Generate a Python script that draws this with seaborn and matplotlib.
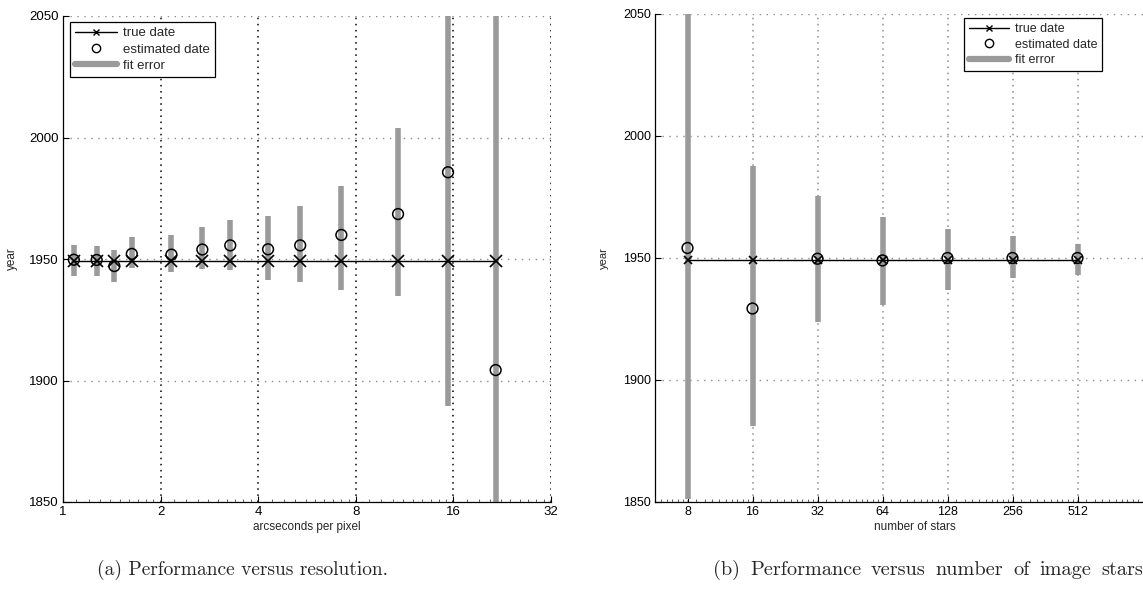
import numpy as np
import matplotlib
matplotlib.use('Agg')
import matplotlib.pyplot as plt
import seaborn as sns
from matplotlib.lines import Line2D
from matplotlib.ticker import FixedLocator, FixedFormatter, NullFormatter

# datos panel (a): resolucion
arcsec = [1.08, 1.27, 1.44, 1.63, 2.16, 2.69, 3.28, 4.29, 5.39, 7.22, 10.8, 15.4, 21.6]
est_a = [1949.7, 1949.6, 1947.1, 1952.1, 1951.8, 1953.9, 1955.6, 1954.0, 1955.6, 1959.9, 1968.5, 1985.7, 1904.3]
lo_a = [1942.9, 1943.1, 1940.4, 1946.2, 1944.8, 1945.9, 1945.6, 1941.4, 1940.4, 1937.1, 1934.6, 1889.4, 1745.0]
hi_a = [1955.6, 1955.5, 1953.8, 1959.0, 1959.9, 1963.0, 1966.0, 1967.6, 1972.0, 1980.0, 2004.0, 2082.0, 2064.0]

# datos panel (b): numero de estrellas
stars = [8, 16, 32, 64, 128, 256, 512]
est_b = [1954.1, 1929.3, 1949.7, 1949.0, 1950.0, 1950.0, 1950.0]
lo_b = [1851.2, 1881.0, 1923.8, 1930.8, 1937.0, 1941.8, 1942.9]
hi_b = [2057.0, 1987.7, 1975.4, 1967.0, 1961.8, 1959.2, 1955.7]

true_year = 1949
xticks_a = [1, 2, 4, 8, 16, 32]
xticks_b = [8, 16, 32, 64, 128, 256, 512]
yticks = [1850, 1900, 1950, 2000, 2050]
caption_a = '(a) Performance versus resolution.'
caption_b = '(b) Performance versus number of image stars'

sns.set_style('ticks', {'xtick.direction': 'in', 'ytick.direction': 'in'})
plt.rcParams['font.family'] = ['Liberation Sans', 'DejaVu Sans']

W, H = 1143, 595
fig = plt.figure(figsize=(W / 100, H / 100), dpi=100)
axa = fig.add_axes([63 / W, 1 - 502 / H, 488 / W, 486 / H])
axb = fig.add_axes([655 / W, 1 - 502 / H, 520 / W, 488 / H])

grey = '#9a9a9a'


def panel(ax, x, est, lo, hi, xticks, xlim, xgrid_color, xmark, fs, leg_loc, leg_anchor):
    ax.set_xscale('log', base=2)
    # barras de error
    ax.vlines(x, lo, hi, colors=grey, linewidth=4, zorder=2)
    # fecha real
    sns.lineplot(x=x, y=[true_year] * len(x), ax=ax, color='k', linewidth=1,
                 marker='x', markersize=xmark, markeredgewidth=1.2,
                 markeredgecolor='k', zorder=3)
    # fecha estimada
    sns.scatterplot(x=x, y=est, ax=ax, marker='o', s=60, facecolors='none',
                    edgecolors='k', linewidth=1.1, zorder=4)
    ax.set_xlim(*xlim)
    ax.set_ylim(1850, 2050)
    ax.xaxis.set_major_locator(FixedLocator(xticks))
    ax.xaxis.set_major_formatter(FixedFormatter([str(t) for t in xticks]))
    minors = [t * s for t in [2 ** k for k in range(-2, 12)] for s in np.arange(1.1, 2.0, 0.1)]
    ax.xaxis.set_minor_locator(FixedLocator(minors))
    ax.xaxis.set_minor_formatter(NullFormatter())
    ax.set_yticks(yticks)
    ax.tick_params(axis='both', which='major', direction='in', length=4, width=0.8,
                   labelsize=fs, colors='k', pad=3)
    ax.tick_params(axis='x', which='minor', direction='in', length=2, width=0.5)
    ax.grid(True, axis='x', which='major', color=xgrid_color, linestyle=(0, (1, 3)), linewidth=1.1)
    ax.grid(True, axis='y', which='major', color='0.55', linestyle=(0, (1, 4)), linewidth=1)
    for s in ['top', 'right']:
        ax.spines[s].set_visible(False)
    for s in ['left', 'bottom']:
        ax.spines[s].set_linewidth(0.9)
        ax.spines[s].set_color('k')
    handles = [Line2D([], [], color='k', lw=1, marker='x', markersize=4.5),
               Line2D([], [], ls='none', marker='o', mfc='none', mec='k', markersize=6),
               Line2D([], [], color=grey, lw=4.5)]
    leg = ax.legend(handles, ['true date', 'estimated date', 'fit error'], loc=leg_loc,
                    bbox_to_anchor=leg_anchor, frameon=True, fancybox=False,
                    edgecolor='k', framealpha=1, fontsize=fs, borderaxespad=0,
                    borderpad=0.4, labelspacing=0.3, handlelength=3.2, handletextpad=0.45)
    leg.get_frame().set_linewidth(0.9)


panel(axa, arcsec, est_a, lo_a, hi_a, xticks_a, (1, 32), 'k', 9, 9.5,
      'upper left', (0.014, 0.988))
axa.set_xlabel('arcseconds per pixel', fontsize=8.5, labelpad=2)
axa.set_ylabel('year', fontsize=8.5, labelpad=8)

panel(axb, stars, est_b, lo_b, hi_b, xticks_b, (2 ** 2.5, 2 ** 10.5), '0.55', 6, 9,
      'upper right', (0.86, 0.992))
axb.set_xlabel('number of stars', fontsize=8.5, labelpad=2)
axb.set_ylabel('year', fontsize=8, labelpad=10)

fig.text(97 / W, 1 - 575 / H, caption_a, fontfamily='cmr10',
         fontsize=14, ha='left', va='baseline')

# caption (b) justificado: se reparte el espacio entre palabras
words = caption_b.split()
renderer = fig.canvas.get_renderer()
txts = [fig.text(0, 1 - 575 / H, w, fontfamily='cmr10', fontsize=14.6,
                 ha='left', va='baseline') for w in words]
widths = [t.get_window_extent(renderer).width for t in txts]
x0, x1 = 713, 1143
gap = (x1 - x0 - sum(widths)) / (len(words) - 1)
pos = x0
for t, w in zip(txts, widths):
    t.set_x(pos / W)
    pos += w + gap

fig.savefig('out.png', dpi=100)
